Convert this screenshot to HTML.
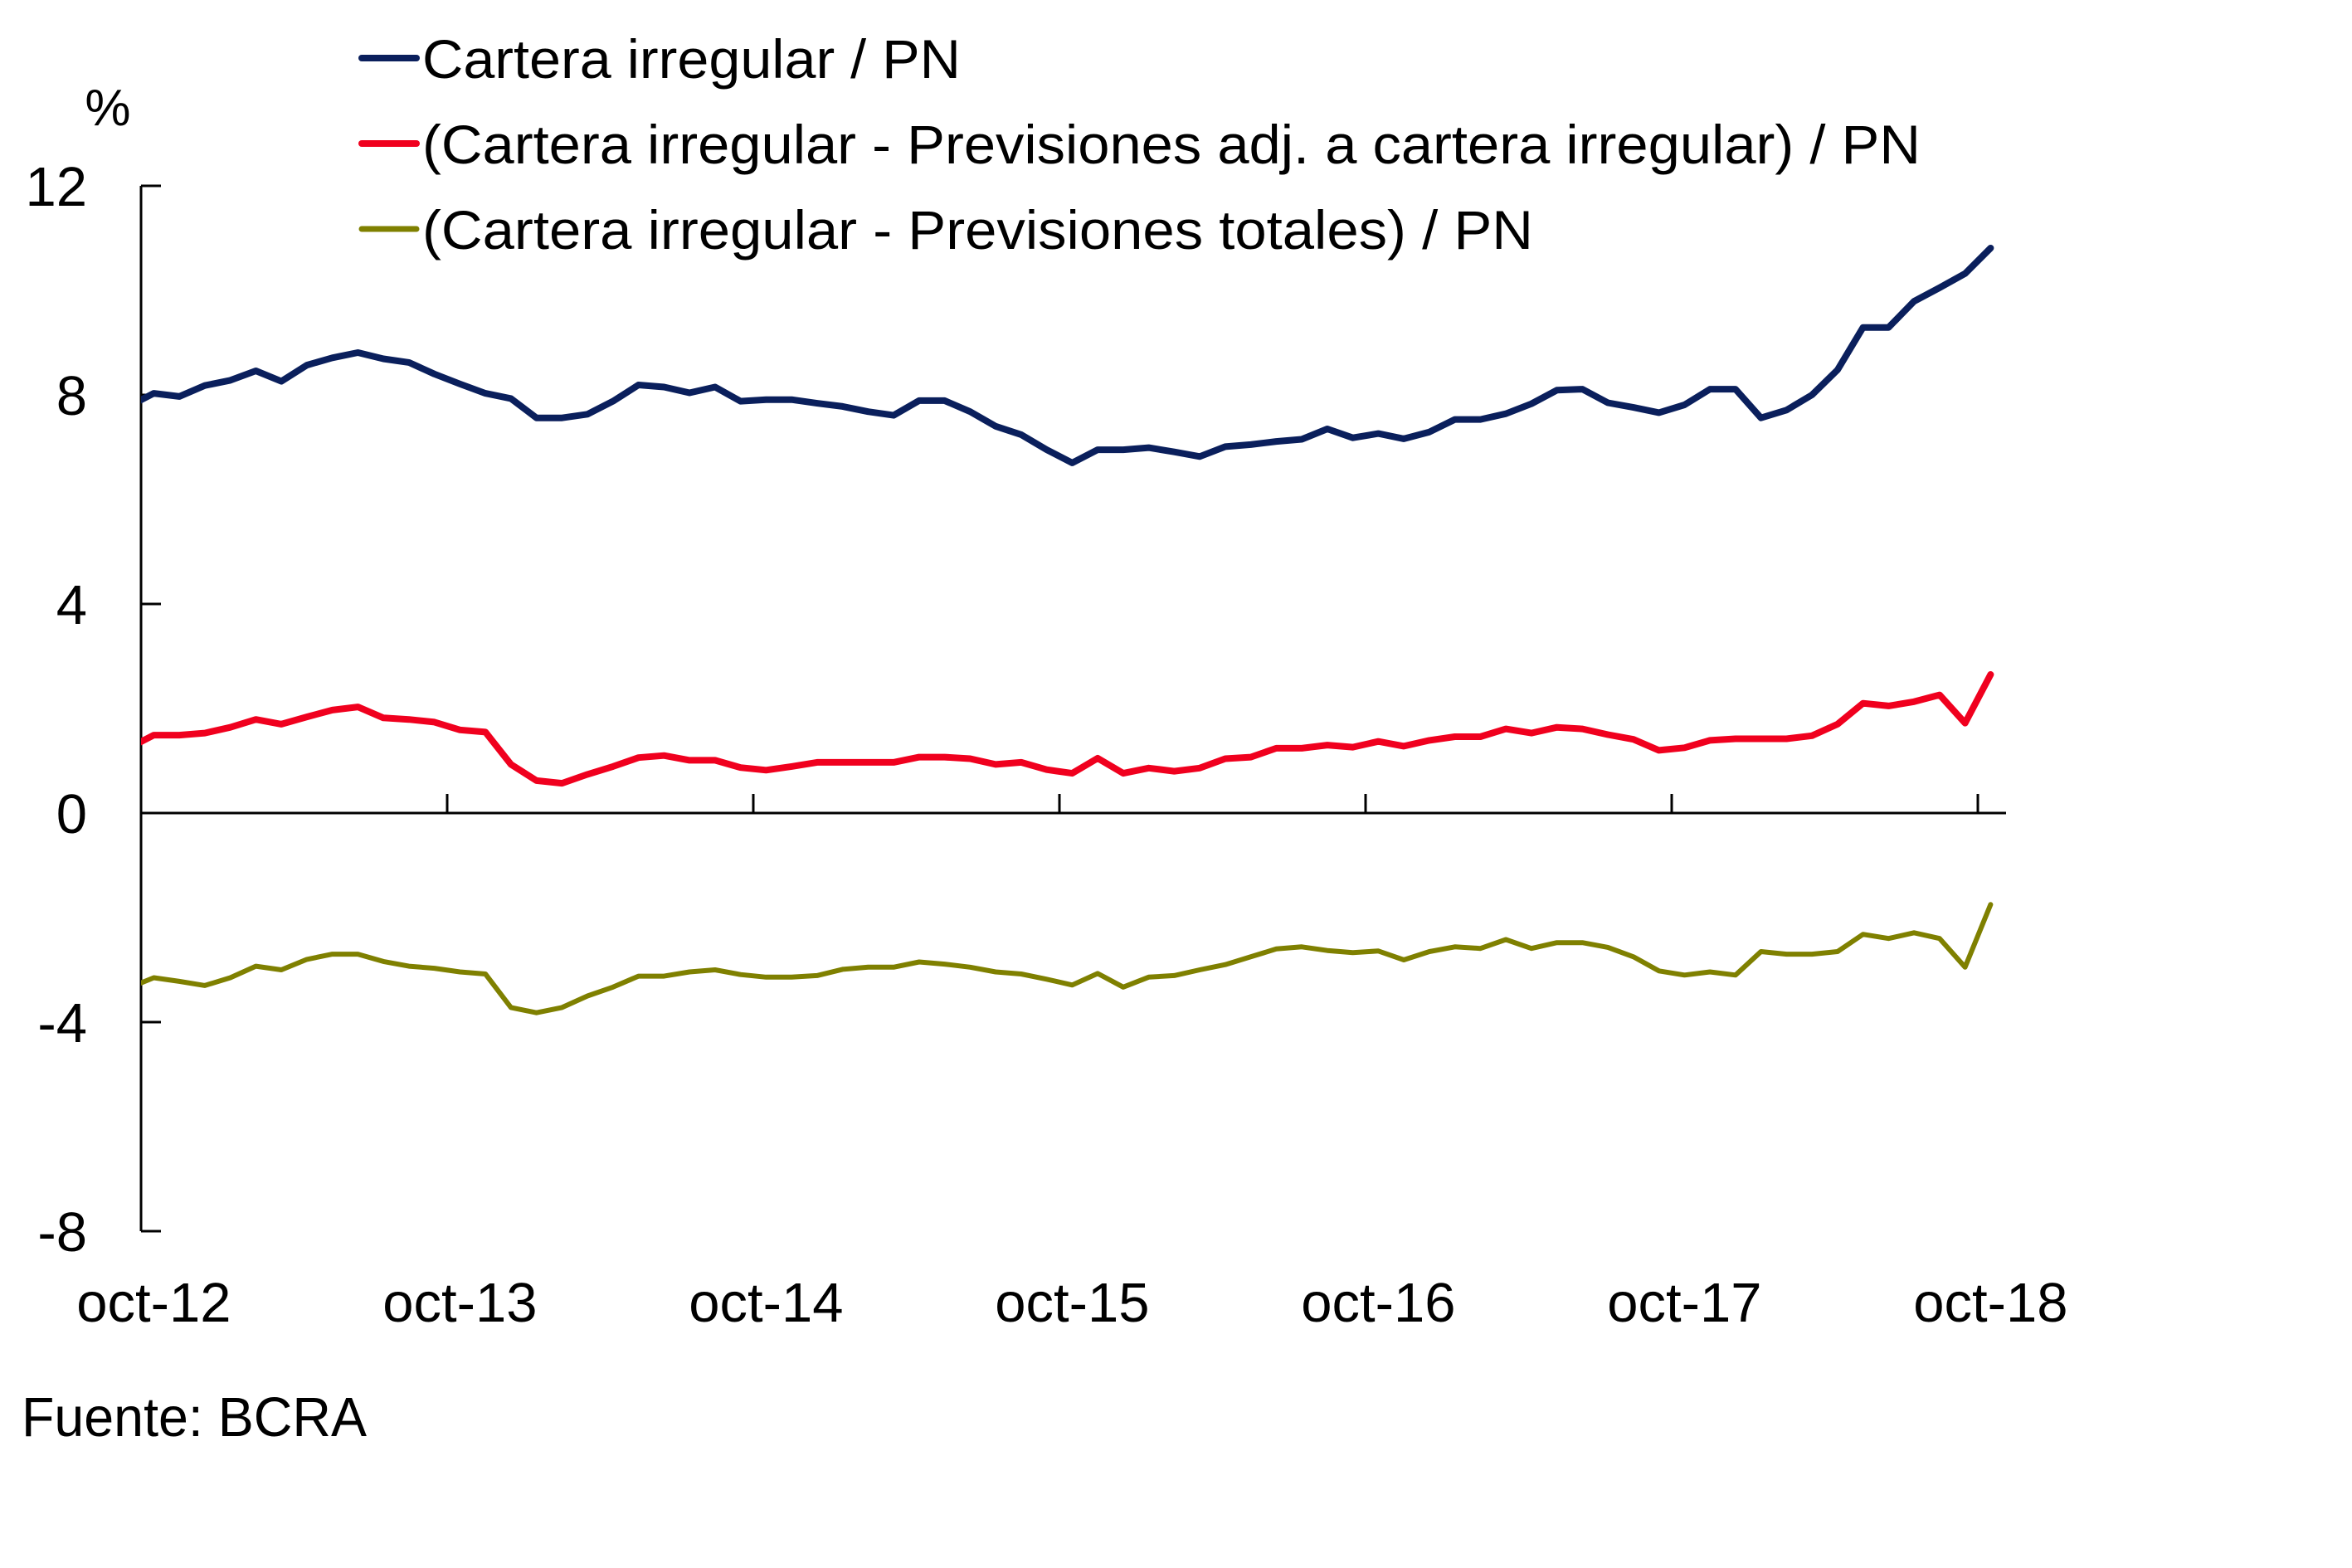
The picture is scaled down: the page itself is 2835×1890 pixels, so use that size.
<!DOCTYPE html>
<html><head><meta charset="utf-8"><style>
html,body{margin:0;padding:0;background:#fff;}
svg{display:block;font-family:"Liberation Sans",sans-serif;}
</style></head><body>
<svg id="chart" width="2835" height="1890" viewBox="0 0 2835 1890" xmlns="http://www.w3.org/2000/svg">
<defs><clipPath id="plotclip"><rect x="170" y="150" width="2260" height="1340"/></clipPath></defs>
<g id="legend">
 <g>
  <line x1="436" y1="70" x2="502" y2="70" stroke="#0a1f5c" stroke-width="8" stroke-linecap="round"/>
  <text x="509" y="94" font-size="66" textLength="649" lengthAdjust="spacingAndGlyphs">Cartera irregular / PN</text>
 </g>
 <g>
  <line x1="436" y1="173" x2="502" y2="173" stroke="#f0001e" stroke-width="8" stroke-linecap="round"/>
  <text x="509" y="197" font-size="66" textLength="1806" lengthAdjust="spacingAndGlyphs">(Cartera irregular - Previsiones adj. a cartera irregular) / PN</text>
 </g>
 <g>
  <line x1="436" y1="276" x2="502" y2="276" stroke="#7f8000" stroke-width="7" stroke-linecap="round"/>
  <text x="509" y="300" font-size="66" textLength="1339" lengthAdjust="spacingAndGlyphs">(Cartera irregular - Previsiones totales) / PN</text>
 </g>
</g>
<text x="130" y="151" font-size="62" text-anchor="middle">%</text>
<g id="axes"></g>
<g id="series" clip-path="url(#plotclip)"></g>
<text x="26" y="1731" font-size="67" textLength="416" lengthAdjust="spacingAndGlyphs">Fuente: BCRA</text>
</svg>
<script>
// k = -1 (sep-12) .. 72 (oct-18)
const blueValues = [7.78,8.03,7.97,8.18,8.28,8.46,8.26,8.57,8.71,8.81,8.69,8.62,8.40,8.21,8.03,7.93,7.56,7.56,7.63,7.88,8.19,8.15,8.04,8.15,7.88,7.91,
7.91,7.84,7.78,7.68,7.61,7.89,7.89,7.68,7.40,7.24,6.95,6.70,6.95,6.95,6.99,6.91,6.82,7.01,7.05,7.11,7.15,7.35,7.18,7.26,7.16,
7.29,7.53,7.53,7.64,7.83,8.09,8.11,7.85,7.76,7.66,7.81,8.11,8.11,7.56,7.71,8.00,8.48,9.29,9.29,9.79,10.05,10.32,10.81];
const redValues = [1.24,1.49,1.49,1.53,1.64,1.79,1.70,1.84,1.97,2.03,1.82,1.79,1.74,1.59,1.55,0.93,0.62,0.57,0.74,0.89,1.06,1.10,1.01,1.01,0.87,0.82,
0.89,0.97,0.97,0.97,0.97,1.07,1.07,1.04,0.93,0.97,0.83,0.76,1.05,0.76,0.86,0.80,0.86,1.04,1.07,1.24,1.24,1.30,1.26,1.37,1.28,
1.39,1.46,1.46,1.61,1.53,1.64,1.61,1.50,1.41,1.20,1.25,1.39,1.42,1.42,1.42,1.48,1.70,2.10,2.05,2.13,2.26,1.72,2.65];
const oliveValues = [-3.35,-3.15,-3.22,-3.30,-3.15,-2.93,-3.00,-2.80,-2.70,-2.70,-2.84,-2.93,-2.97,-3.04,-3.08,-3.72,-3.82,-3.72,-3.50,-3.33,-3.12,-3.12,-3.04,-3.00,-3.09,-3.14,
-3.14,-3.11,-2.99,-2.95,-2.95,-2.85,-2.89,-2.95,-3.04,-3.08,-3.18,-3.29,-3.07,-3.33,-3.14,-3.11,-3.00,-2.90,-2.75,-2.60,-2.56,-2.63,-2.67,-2.64,-2.81,
-2.65,-2.56,-2.59,-2.42,-2.59,-2.48,-2.48,-2.57,-2.75,-3.02,-3.10,-3.04,-3.10,-2.65,-2.70,-2.70,-2.65,-2.32,-2.40,-2.29,-2.40,-2.95,-1.75];
const yTicks = [12,8,4,0,-4,-8];
const xLabels = ["oct-12","oct-13","oct-14","oct-15","oct-16","oct-17","oct-18"];
const xLabelIndex = [0,12,24,36,48,60,72];

const NS = "http://www.w3.org/2000/svg";
const X0 = 170, CW = 30.75, Y0 = 980, PU = 63;
function xPos(k){ return X0 + (k + 0.5) * CW; }
function yPos(v){ return Y0 - v * PU; }
function mk(tag, attrs, parent){ const e=document.createElementNS(NS,tag); for(const a in attrs) e.setAttribute(a,attrs[a]); parent.appendChild(e); return e; }

const axes = document.getElementById('axes');
const yAxis = mk('line',{x1:X0,y1:yPos(12),x2:X0,y2:yPos(-8),stroke:'#000','stroke-width':3},axes);


const xAxis = mk('line',{x1:X0,y1:Y0,x2:2418,y2:Y0,stroke:'#000','stroke-width':3},axes);


yTicks.forEach(v=>{
  const t = mk('line',{x1:X0,y1:yPos(v),x2:X0+24,y2:yPos(v),stroke:'#000','stroke-width':3},axes);
  
  
  const l = mk('text',{x:105,y:yPos(v)+24,'font-size':67,'text-anchor':'end'},axes);
  
  
  l.textContent = String(v);
});
xLabelIndex.forEach((k,i)=>{
  if(k>0){
    const bx = X0 + k*CW;
    const t = mk('line',{x1:bx,y1:Y0,x2:bx,y2:Y0-23,stroke:'#000','stroke-width':3},axes);
    
    
  }
  const l = mk('text',{x:xPos(k),y:1593,'font-size':67,'text-anchor':'middle'},axes);
  
  
  l.textContent = xLabels[i];
});

const series = document.getElementById('series');
function drawLine(vals, color, w, name){
  const pts = vals.map((v,i)=> xPos(i-1).toFixed(1)+','+yPos(v).toFixed(1)).join(' ');
  const p = mk('polyline',{points:pts,fill:'none',stroke:color,'stroke-width':w,'stroke-linejoin':'round','stroke-linecap':'round'},series);
  
  
}
drawLine(oliveValues,'#7f8000',6,'series-cartera-menos-previsiones-totales');
drawLine(redValues,'#f0001e',8,'series-cartera-menos-previsiones-adj');
drawLine(blueValues,'#0a1f5c',8,'series-cartera-irregular');
</script>
</body></html>
